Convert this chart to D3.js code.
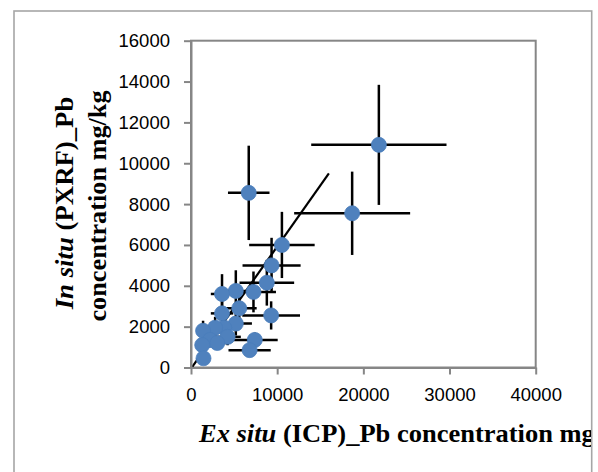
<!DOCTYPE html>
<html><head><meta charset="utf-8">
<script src="https://cdn.jsdelivr.net/npm/d3@7"></script>
<style>body{margin:0;background:#fff}svg{display:block}</style>
</head><body>
<svg id="c" width="598" height="472"></svg>
<script>
// Ex situ (ICP) Pb concentration (x) and In situ (PXRF) Pb concentration (y), mg/kg
const icpX    = [21800, 6700, 18700, 10550, 9350, 8800, 7250, 5200, 3600, 5600, 3600, 9300, 5200, 3850, 2800, 1400, 4250, 2200, 3050, 1300, 7400, 6800, 1450];
const pxrfY   = [10900, 8550, 7550, 6000, 5000, 4150, 3700, 3750, 3600, 2900, 2650, 2550, 2150, 1950, 1950, 1800, 1500, 1350, 1200, 1100, 1350, 850, 450];
const icpErr  = [7850, 2410, 6730, 3800, 3370, 3170, 2610, 1870, 1300, 2020, 1300, 3350, 1870, 1390, 1010, 500, 1530, 790, 1100, 470, 2660, 2450, 520];
const pxrfErr = [2940, 2310, 2040, 1620, 1350, 1120, 1000, 1010, 970, 780, 720, 690, 580, 530, 530, 490, 410, 360, 320, 300, 360, 230, 120];
const trendX  = [0, 16000];
const trendY  = [-50, 9500];
const xTicks  = [0, 10000, 20000, 30000, 40000];
const yTicks  = [0, 2000, 4000, 6000, 8000, 10000, 12000, 14000, 16000];

const svg = d3.select("#c");
const L = 191, R = 535.7, T = 40.7, B = 367.5;
const x = d3.scaleLinear().domain([0, 40000]).range([L, R]);
const y = d3.scaleLinear().domain([0, 16000]).range([B, T]);

svg.append("defs").append("clipPath").attr("id", "chartClip")
  .append("rect").attr("x", 14).attr("y", 11).attr("width", 577).attr("height", 470);

// outer chart border
svg.append("rect").attr("x", 14).attr("y", 11).attr("width", 577.7).attr("height", 480)
  .attr("fill", "none").attr("stroke", "#a6a6a6").attr("stroke-width", 1.6);

// plot area border
svg.append("rect").attr("x", L).attr("y", T).attr("width", R - L).attr("height", B - T)
  .attr("fill", "none").attr("stroke", "#868686").attr("stroke-width", 2);

const data = icpX.map((v, i) => ({x: v, y: pxrfY[i], ex: icpErr[i], ey: pxrfErr[i]}));

const g = svg.append("g");
// error bars
g.selectAll("line.ex").data(data).join("line").attr("class", "ex")
  .attr("x1", d => x(d.x - d.ex)).attr("x2", d => x(d.x + d.ex))
  .attr("y1", d => y(d.y)).attr("y2", d => y(d.y))
  .attr("stroke", "#000").attr("stroke-width", 2.5);
g.selectAll("line.ey").data(data).join("line").attr("class", "ey")
  .attr("x1", d => x(d.x)).attr("x2", d => x(d.x))
  .attr("y1", d => y(d.y - d.ey)).attr("y2", d => y(d.y + d.ey))
  .attr("stroke", "#000").attr("stroke-width", 2.5);

// trend line
g.append("path")
  .datum(trendX.map((v, i) => [v, trendY[i]]))
  .attr("d", d3.line().x(d => x(d[0])).y(d => y(d[1])))
  .attr("fill", "none").attr("stroke", "#000").attr("stroke-width", 2.2);

// markers
g.selectAll("circle").data(data).join("circle")
  .attr("cx", d => x(d.x)).attr("cy", d => y(d.y)).attr("r", 7.5)
  .attr("fill", "#4f81bd").attr("stroke", "#4a7ebb").attr("stroke-width", 0.8);

// axes
const fmt = d3.format("d");
const yAxis = svg.append("g").attr("transform", `translate(${L},0)`)
  .call(d3.axisLeft(y).tickValues(yTicks).tickFormat(fmt).tickSize(7).tickSizeOuter(0).tickPadding(14));
const xAxis = svg.append("g").attr("transform", `translate(0,${B})`)
  .call(d3.axisBottom(x).tickValues(xTicks).tickFormat(fmt).tickSize(7).tickSizeOuter(0).tickPadding(13));
[yAxis, xAxis].forEach(a => {
  a.select(".domain").attr("stroke", "#868686").attr("stroke-width", 2);
  a.selectAll(".tick line").attr("stroke", "#868686").attr("stroke-width", 2);
  a.selectAll(".tick text").attr("fill", "#000")
    .style("font-family", "'Liberation Sans', Arial, sans-serif").style("font-size", "18.5px");
});

// axis titles
const titles = svg.append("g").attr("clip-path", "url(#chartClip)")
  .style("font-family", "'Liberation Serif', 'Times New Roman', serif").style("font-weight", "bold").attr("fill", "#000");

const xt = titles.append("text").attr("transform", "translate(199,442) scale(1.06,1)").style("font-size", "25px");
xt.append("tspan").style("font-style", "italic").text("Ex situ");
xt.append("tspan").text(" (ICP)_Pb concentration mg/kg");

const yt1 = titles.append("text").attr("transform", "translate(73,203) rotate(-90) scale(1.03,1)")
  .attr("text-anchor", "middle").style("font-size", "26px");
yt1.append("tspan").style("font-style", "italic").text("In situ");
yt1.append("tspan").text(" (PXRF)_Pb");

titles.append("text").attr("transform", "translate(106,206) rotate(-90) scale(1.05,1)")
  .attr("text-anchor", "middle").style("font-size", "25px").text("concentration mg/kg");
</script>
</body></html>
